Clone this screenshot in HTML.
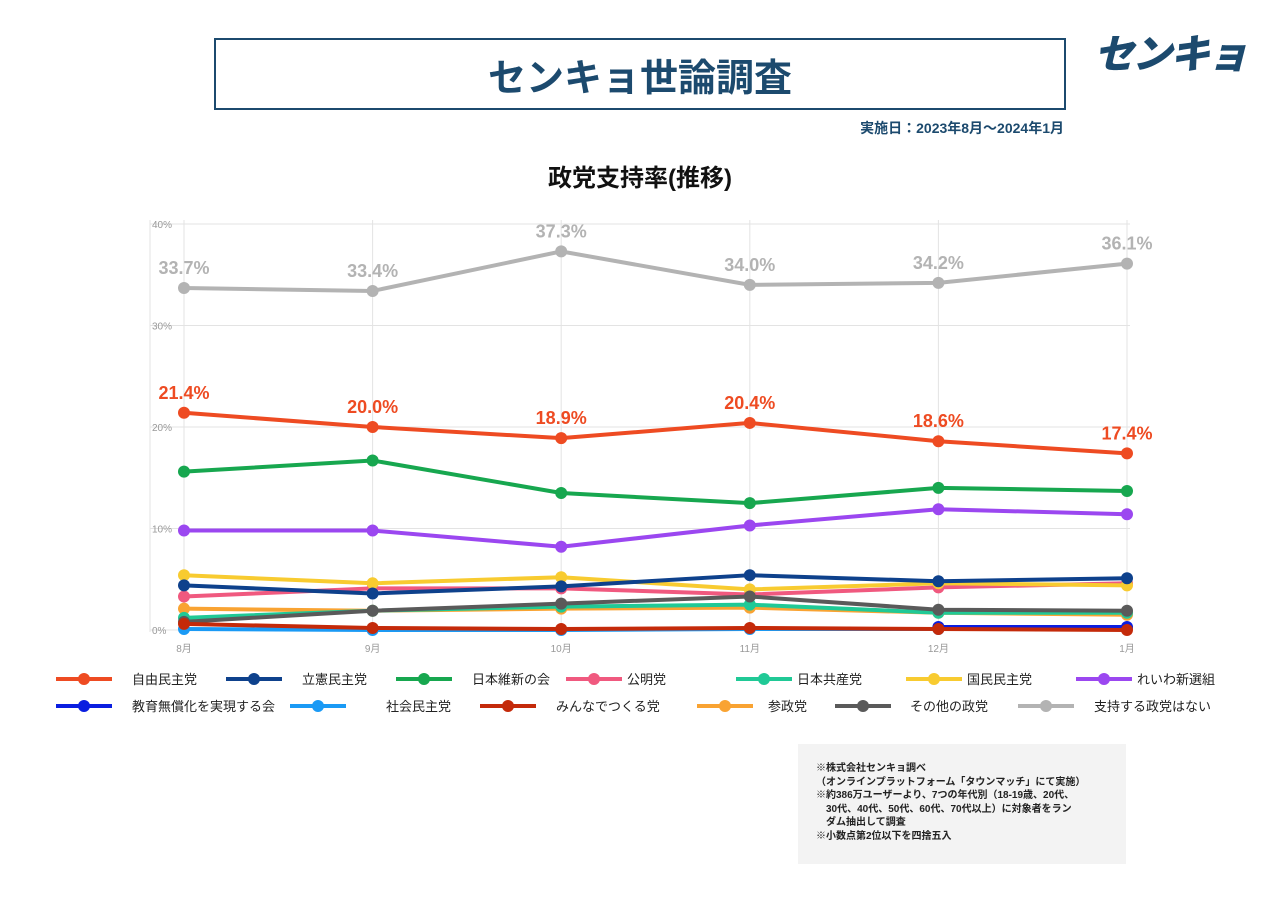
<!DOCTYPE html>
<html><head><meta charset="utf-8">
<style>
body{margin:0;width:1280px;height:912px;background:#fff;font-family:"Liberation Sans","Noto Sans CJK JP",sans-serif;position:relative;overflow:hidden}
.abs{position:absolute}
</style></head><body>
<div class="abs" style="left:214px;top:38px;width:848px;height:68px;border:2px solid #1c4a6e;display:flex;align-items:center;justify-content:center;font-size:38px;font-weight:bold;color:#1c4a6e">センキョ世論調査</div>
<div class="abs" style="left:1094px;top:22px;font-size:40px;font-weight:900;font-style:italic;color:#1c4a6e;letter-spacing:-2px">センキョ</div>
<div class="abs" style="right:216px;top:118px;font-size:14px;font-weight:bold;color:#1c4a6e">実施日：2023年8月～2024年1月</div>
<div class="abs" style="left:0;width:1280px;top:158px;text-align:center;font-size:24px;font-weight:bold;color:#111">政党支持率(推移)</div>
<svg class="abs" style="left:0;top:0" width="1280" height="912" id="chart"></svg>
<div class="abs" style="left:798px;top:744px;width:328px;height:120px;background:#f3f3f3;font-size:10px;font-weight:bold;color:#222;line-height:13.5px;padding:18px 0 0 18px;box-sizing:border-box;white-space:pre">※株式会社センキョ調べ
（オンラインプラットフォーム「タウンマッチ」にて実施）
※約386万ユーザーより、7つの年代別（18-19歳、20代、
　30代、40代、50代、60代、70代以上）に対象者をラン
　ダム抽出して調査
※小数点第2位以下を四捨五入</div>
<script>
const months=["8月","9月","10月","11月","12月","1月"];
const yTicks=[0,10,20,30,40];
const names=["自由民主党","立憲民主党","日本維新の会","公明党","日本共産党","国民民主党","れいわ新選組","教育無償化を実現する会","社会民主党","みんなでつくる党","参政党","その他の政党","支持する政党はない"];
const colors=["#ee4b22","#0e418c","#17a74f","#f0597f","#20c996","#f8cb30","#9b47f0","#0a1ee0","#1a9af5","#c42a0a","#f9a332","#5a5a5a","#b3b3b3"];
const vLDP=[21.4,20.0,18.9,20.4,18.6,17.4];
const vCDP=[4.4,3.6,4.3,5.4,4.8,5.1];
const vIshin=[15.6,16.7,13.5,12.5,14.0,13.7];
const vKomei=[3.3,4.1,4.1,3.5,4.2,4.6];
const vJCP=[1.2,1.9,2.3,2.5,1.7,1.7];
const vDPFP=[5.4,4.6,5.2,4.0,4.6,4.4];
const vReiwa=[9.8,9.8,8.2,10.3,11.9,11.4];
const vKyoiku=[null,null,null,null,0.3,0.3];
const vSDP=[0.1,0.0,0.0,0.1,0.1,0.2];
const vMinna=[0.6,0.2,0.1,0.2,0.1,0.0];
const vSansei=[2.1,1.9,2.1,2.2,1.7,1.5];
const vOther=[0.8,1.9,2.6,3.3,2.0,1.9];
const vNone=[33.7,33.4,37.3,34.0,34.2,36.1];
const series=[vLDP,vCDP,vIshin,vKomei,vJCP,vDPFP,vReiwa,vKyoiku,vSDP,vMinna,vSansei,vOther,vNone];
const drawOrder=[12,2,6,3,5,1,10,4,11,8,7,9,0];
const labeled={0:"#ee4b22",12:"#b3b3b3"};
const svg=document.getElementById('chart');const NS="http://www.w3.org/2000/svg";
const x=i=>184+i*(1127-184)/5;
const y=v=>630-v*10.15;
function el(t,a){const e=document.createElementNS(NS,t);for(const k in a)e.setAttribute(k,a[k]);svg.appendChild(e);return e;}
yTicks.forEach(t=>{const l=el('line',{x1:150,x2:1130,y1:y(t),y2:y(t),stroke:'#e3e3e3'});


const tx=el('text',{x:152,y:y(t)+4,'font-size':10,fill:'#999','font-family':'Liberation Sans'});tx.textContent=t+'%';

});
months.forEach((m,i)=>{const l=el('line',{x1:x(i),x2:x(i),y1:220,y2:632,stroke:'#e3e3e3'});


const tx=el('text',{x:x(i),y:652,'font-size':10,fill:'#999','text-anchor':'middle','font-family':'Liberation Sans,Noto Sans CJK JP'});tx.textContent=m;

});
el('line',{x1:150,x2:150,y1:220,y2:632,stroke:'#e3e3e3'});
drawOrder.forEach(si=>{const v=series[si];let d='';v.forEach((val,i)=>{if(val==null)return;d+=(d?'L':'M')+x(i)+','+y(val);});
const p=el('path',{d:d,fill:'none',stroke:colors[si],'stroke-width':4});


v.forEach((val,i)=>{if(val==null)return;const c=el('circle',{cx:x(i),cy:y(val),r:6,fill:colors[si]});


if(labeled[si]){const t=el('text',{x:x(i),y:y(val)-14,'font-size':18,'font-weight':'bold',fill:labeled[si],'text-anchor':'middle','font-family':'Liberation Sans'});t.textContent=val.toFixed(1)+'%';

}});});
const leg=[[56,132,679],[226,302,679],[396,472,679],[566,627,679],[736,797,679],[906,967,679],[1076,1137,679],[56,132,706],[290,386,706],[480,556,706],[697,768,706],[835,910,706],[1018,1094,706]];
leg.forEach((L,i)=>{const l=el('line',{x1:L[0],x2:L[0]+56,y1:L[2],y2:L[2],stroke:colors[i],'stroke-width':4});


el('circle',{cx:L[0]+28,cy:L[2],r:6,fill:colors[i]});
const t=el('text',{x:L[1],y:L[2]+5,'font-size':13,fill:'#222','font-family':'Liberation Sans,Noto Sans CJK JP'});t.textContent=names[i];

});
</script>
</body></html>
